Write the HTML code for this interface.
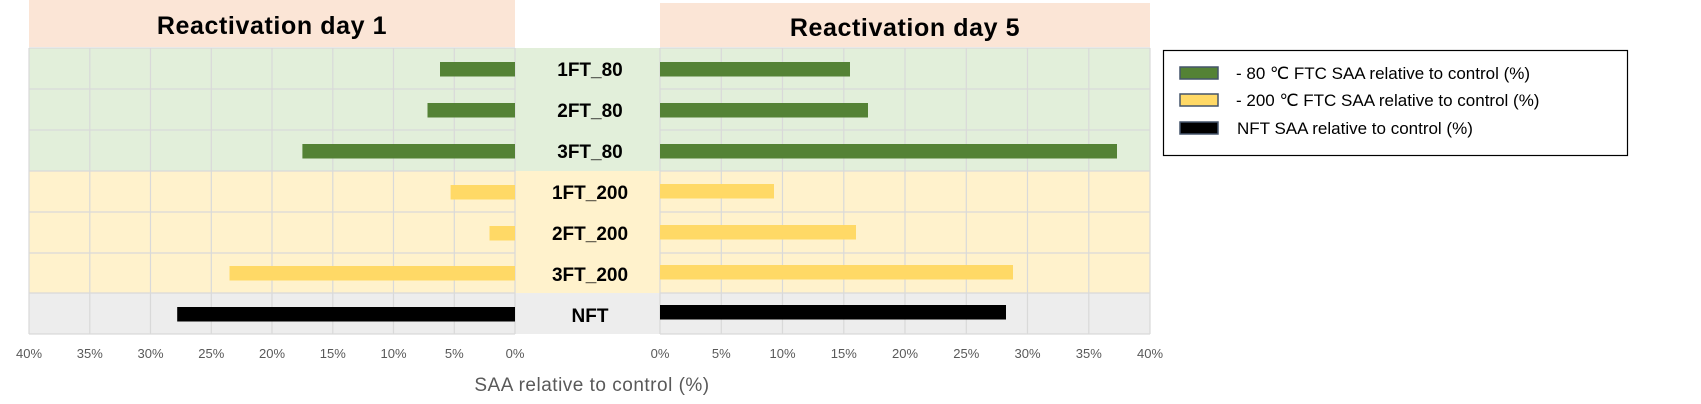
<!DOCTYPE html>
<html><head><meta charset="utf-8"><style>html,body{margin:0;padding:0;background:#fff}svg{display:block}</style></head>
<body>
<svg width="1701" height="404" viewBox="0 0 1701 404" xmlns="http://www.w3.org/2000/svg" font-family="'Liberation Sans', sans-serif">
<rect x="29" y="0" width="486" height="47" fill="#fbe5d6"/>
<rect x="660" y="3" width="490" height="44" fill="#fbe5d6"/>
<text x="272" y="34" font-size="25" font-weight="bold" text-anchor="middle" letter-spacing="0.6">Reactivation day 1</text>
<text x="905" y="36" font-size="25" font-weight="bold" text-anchor="middle" letter-spacing="0.6">Reactivation day 5</text>
<rect x="29" y="48" width="1121" height="123" fill="#e2efda"/>
<rect x="29" y="171" width="1121" height="122" fill="#fff2cc"/>
<rect x="29" y="293" width="1121" height="41" fill="#ededed"/>
<g stroke="#d9d9d9" stroke-width="1.2">
<line x1="29" y1="48" x2="29" y2="334"/><line x1="89.8" y1="48" x2="89.8" y2="334"/><line x1="150.5" y1="48" x2="150.5" y2="334"/><line x1="211.3" y1="48" x2="211.3" y2="334"/><line x1="272" y1="48" x2="272" y2="334"/><line x1="332.8" y1="48" x2="332.8" y2="334"/><line x1="393.5" y1="48" x2="393.5" y2="334"/><line x1="454.3" y1="48" x2="454.3" y2="334"/><line x1="515" y1="48" x2="515" y2="334"/>
<line x1="660" y1="48" x2="660" y2="334"/><line x1="721.3" y1="48" x2="721.3" y2="334"/><line x1="782.5" y1="48" x2="782.5" y2="334"/><line x1="843.8" y1="48" x2="843.8" y2="334"/><line x1="905" y1="48" x2="905" y2="334"/><line x1="966.3" y1="48" x2="966.3" y2="334"/><line x1="1027.5" y1="48" x2="1027.5" y2="334"/><line x1="1088.8" y1="48" x2="1088.8" y2="334"/><line x1="1150" y1="48" x2="1150" y2="334"/>
<line x1="29" y1="48" x2="515" y2="48"/><line x1="29" y1="89" x2="515" y2="89"/><line x1="29" y1="130" x2="515" y2="130"/><line x1="29" y1="171" x2="515" y2="171"/><line x1="29" y1="212" x2="515" y2="212"/><line x1="29" y1="253" x2="515" y2="253"/><line x1="29" y1="293" x2="515" y2="293"/><line x1="29" y1="334" x2="515" y2="334"/>
<line x1="660" y1="48" x2="1150" y2="48"/><line x1="660" y1="89" x2="1150" y2="89"/><line x1="660" y1="130" x2="1150" y2="130"/><line x1="660" y1="171" x2="1150" y2="171"/><line x1="660" y1="212" x2="1150" y2="212"/><line x1="660" y1="253" x2="1150" y2="253"/><line x1="660" y1="293" x2="1150" y2="293"/><line x1="660" y1="334" x2="1150" y2="334"/>
</g>
<rect x="440" y="62" width="75" height="14.5" fill="#548235"/>
<rect x="427.5" y="103" width="87.5" height="14.5" fill="#548235"/>
<rect x="302.4" y="144" width="212.6" height="14.5" fill="#548235"/>
<rect x="450.6" y="185" width="64.4" height="14.5" fill="#ffd966"/>
<rect x="489.5" y="226" width="25.5" height="14.5" fill="#ffd966"/>
<rect x="229.5" y="266" width="285.5" height="14.5" fill="#ffd966"/>
<rect x="177.2" y="307" width="337.8" height="14.5" fill="#000"/>
<rect x="660" y="62" width="190" height="14.5" fill="#548235"/>
<rect x="660" y="103" width="208" height="14.5" fill="#548235"/>
<rect x="660" y="144" width="457" height="14.5" fill="#548235"/>
<rect x="660" y="184" width="114" height="14.5" fill="#ffd966"/>
<rect x="660" y="225" width="196" height="14.5" fill="#ffd966"/>
<rect x="660" y="265" width="353" height="14.5" fill="#ffd966"/>
<rect x="660" y="305" width="346" height="14.5" fill="#000"/>
<g font-size="19" font-weight="bold" text-anchor="middle">
<text x="590" y="76">1FT_80</text><text x="590" y="117">2FT_80</text><text x="590" y="158">3FT_80</text>
<text x="590" y="199">1FT_200</text><text x="590" y="240">2FT_200</text><text x="590" y="281">3FT_200</text>
<text x="590" y="322">NFT</text>
</g>
<g font-size="13" fill="#595959" text-anchor="middle">
<text x="29" y="358">40%</text><text x="89.8" y="358">35%</text><text x="150.5" y="358">30%</text><text x="211.3" y="358">25%</text><text x="272" y="358">20%</text><text x="332.8" y="358">15%</text><text x="393.5" y="358">10%</text><text x="454.3" y="358">5%</text><text x="515" y="358">0%</text>
<text x="660" y="358">0%</text><text x="721.3" y="358">5%</text><text x="782.5" y="358">10%</text><text x="843.8" y="358">15%</text><text x="905" y="358">20%</text><text x="966.3" y="358">25%</text><text x="1027.5" y="358">30%</text><text x="1088.8" y="358">35%</text><text x="1150" y="358">40%</text>
</g>
<text x="592" y="391" font-size="19" fill="#595959" text-anchor="middle" letter-spacing="0.5">SAA relative to control (%)</text>
<rect x="1163.5" y="50.5" width="464" height="105" fill="#fff" stroke="#000" stroke-width="1.2"/>
<rect x="1180" y="67" width="38" height="12" fill="#548235" stroke="#44546a" stroke-width="1.5"/>
<rect x="1180" y="94" width="38" height="12" fill="#ffd966" stroke="#44546a" stroke-width="1.5"/>
<rect x="1180" y="122" width="38" height="12" fill="#000" stroke="#44546a" stroke-width="1.5"/>
<g font-size="17" fill="#000">
<text x="1236" y="79">- 80 ℃ FTC SAA relative to control (%)</text>
<text x="1236" y="106">- 200 ℃ FTC SAA relative to control (%)</text>
<text x="1237" y="134">NFT SAA relative to control (%)</text>
</g>
</svg>
</body></html>
